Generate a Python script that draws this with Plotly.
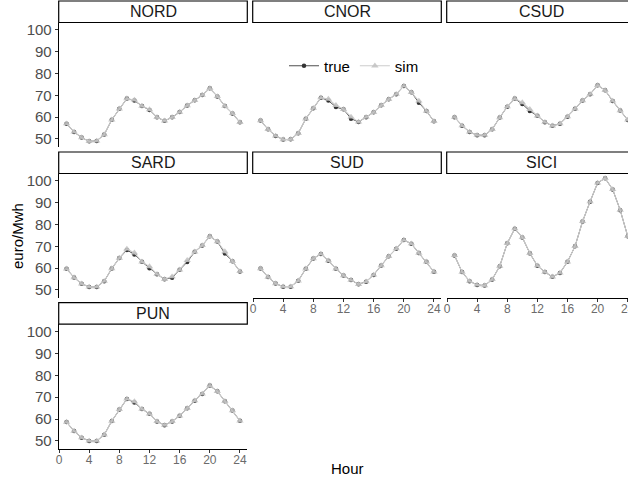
import plotly.graph_objects as go

W, H = 628, 483

hours = list(range(1, 25))
regions = ["NORD", "CNOR", "CSUD", "SARD", "SUD", "SICI", "PUN"]

sim_NORD = [57.0, 53.2, 50.6, 48.9, 49.1, 52.0, 58.8, 63.8, 68.5, 67.9, 65.1, 63.5,
            59.9, 58.3, 59.9, 62.3, 65.3, 67.7, 70.1, 73.2, 69.5, 65.1, 61.7, 57.6]
true_NORD = [57.0, 53.2, 50.6, 48.9, 49.1, 52.0, 58.8, 63.8, 68.5, 67.6, 65.1, 63.3,
             59.9, 58.3, 59.9, 62.3, 65.3, 67.7, 70.1, 73.2, 69.5, 65.1, 61.7, 57.6]

sim_CNOR = [58.4, 54.4, 51.4, 49.7, 49.8, 52.6, 59.2, 64.1, 68.9, 68.3, 65.4, 63.6,
            60.1, 57.8, 60.0, 62.2, 65.4, 68.2, 70.5, 74.3, 71.4, 67.4, 62.8, 58.1]
true_CNOR = [58.4, 54.4, 51.4, 49.7, 49.8, 52.6, 59.2, 64.1, 68.9, 67.6, 64.6, 63.6,
             59.3, 57.8, 60.0, 62.2, 65.4, 68.2, 70.5, 74.3, 71.4, 66.6, 62.8, 58.1]

sim_CSUD = [60.0, 56.1, 53.2, 51.7, 51.7, 54.4, 59.8, 64.8, 68.5, 66.7, 63.6, 60.6,
            57.7, 56.0, 57.0, 60.2, 63.8, 67.6, 70.5, 74.6, 72.3, 67.4, 63.0, 58.7]
true_CSUD = [60.0, 56.1, 53.2, 51.7, 51.7, 54.4, 59.8, 64.8, 68.5, 66.0, 62.8, 60.6,
             57.7, 56.0, 57.0, 60.2, 63.8, 67.6, 70.5, 74.6, 72.3, 67.4, 63.0, 58.7]

sim_SARD = [59.7, 55.7, 52.8, 51.4, 51.4, 54.0, 59.8, 64.6, 68.8, 67.0, 62.9, 60.7,
            57.2, 54.9, 56.1, 59.2, 63.6, 67.5, 70.4, 74.6, 72.2, 67.6, 63.1, 58.5]
true_SARD = [59.7, 55.7, 52.8, 51.4, 51.4, 54.0, 59.8, 64.6, 68.3, 66.3, 62.9, 59.9,
             57.2, 54.9, 55.6, 59.2, 62.8, 67.5, 70.4, 74.6, 72.2, 66.7, 63.1, 58.5]

sim_SUD = [59.8, 55.9, 52.9, 51.5, 51.5, 54.2, 59.7, 64.4, 66.5, 63.4, 59.7, 56.6,
           54.5, 52.6, 53.8, 56.9, 61.2, 65.4, 68.9, 72.9, 71.2, 66.9, 62.9, 58.3]
true_SUD = [59.8, 55.9, 52.9, 51.5, 51.5, 54.2, 59.7, 64.4, 66.5, 63.4, 59.7, 56.6,
            54.5, 52.6, 53.8, 56.9, 61.2, 65.4, 68.9, 72.9, 71.2, 66.9, 62.9, 58.3]

sim_SICI = [65.8, 58.2, 54.0, 52.3, 52.0, 54.8, 60.9, 71.4, 78.1, 74.1, 66.8, 61.1,
            58.2, 56.0, 57.8, 62.9, 70.0, 81.4, 90.5, 99.1, 101.2, 96.1, 86.6, 74.6]
true_SICI = [65.8, 58.2, 54.0, 52.3, 52.0, 54.8, 60.9, 71.4, 78.1, 74.1, 66.8, 61.1,
             58.2, 56.0, 57.8, 62.9, 70.0, 81.4, 90.5, 99.1, 101.2, 96.1, 86.6, 74.6]

sim_PUN = [58.6, 54.5, 51.5, 50.0, 50.0, 52.8, 59.1, 64.4, 69.2, 68.0, 64.6, 62.4,
           58.9, 57.2, 58.9, 61.5, 64.9, 68.4, 71.5, 75.3, 72.7, 68.1, 63.9, 59.2]
true_PUN = [58.6, 54.5, 51.5, 50.0, 50.0, 52.8, 59.1, 64.4, 69.2, 67.6, 64.6, 62.4,
            58.9, 57.2, 58.9, 61.5, 64.9, 68.4, 71.5, 75.3, 72.7, 68.1, 63.9, 59.2]

true_vals = {"NORD": true_NORD, "CNOR": true_CNOR, "CSUD": true_CSUD, "SARD": true_SARD,
             "SUD": true_SUD, "SICI": true_SICI, "PUN": true_PUN}
sim_vals = {"NORD": sim_NORD, "CNOR": sim_CNOR, "CSUD": sim_CSUD, "SARD": sim_SARD,
            "SUD": sim_SUD, "SICI": sim_SICI, "PUN": sim_PUN}

x_ticks = [0, 4, 8, 12, 16, 20, 24]
y_ticks = [50, 60, 70, 80, 90, 100]

# layout geometry (pixels)
cols = [(58.7, 247.3), (252.7, 441.3), (446.7, 628.0)]
panel_rows = [(22.5, 147.0), (173.5, 298.0), (324.2, 449.0)]
strip_tops = [1.0, 152.0, 302.7]
ppu = 7.54
x_left = -0.04
y_range = [46.3, 103.4]

placement = {"NORD": (0, 0), "CNOR": (0, 1), "CSUD": (0, 2),
             "SARD": (1, 0), "SUD": (1, 1), "SICI": (1, 2), "PUN": (2, 0)}
bottom_axis = {"PUN", "SUD", "SICI"}

FONT = "Liberation Sans, Arial, sans-serif"

fig = go.Figure()
layout = dict(
    template="none",
    width=W, height=H, margin=dict(l=0, r=0, t=0, b=0, autoexpand=False),
    paper_bgcolor="white", plot_bgcolor="white",
    font=dict(family=FONT, color="black"),
    showlegend=True,
    legend=dict(orientation="h", x=354 / W, xanchor="center", y=1 - 66 / H, yanchor="middle",
                font=dict(size=15, family=FONT, color="black"), bgcolor="rgba(0,0,0,0)",
                itemwidth=30, tracegroupgap=0, borderwidth=0),
)
shapes = []
annotations = []

for i, reg in enumerate(regions):
    r, c = placement[reg]
    n = "" if i == 0 else str(i + 1)
    xa, ya = "x" + n, "y" + n
    x0, x1 = cols[c]
    top, bot = panel_rows[r]
    xr = [x_left, x_left + (x1 - x0) / ppu]
    if c == 2:
        xr = [x_left, x_left + (x1 - x0) / ppu + 0.03]
    show_x = reg in bottom_axis
    show_y = c == 0
    layout["xaxis" + n] = dict(
        domain=[x0 / W, x1 / W], anchor=ya, range=xr, tickvals=x_ticks, automargin=False,
        showgrid=False, zeroline=False, showline=show_x, linecolor="black", linewidth=1,
        ticks="outside" if show_x else "", ticklen=2.5, tickcolor="#333333",
        showticklabels=show_x, tickfont=dict(size=12, color="#6b6b6b", family=FONT),
        ticklabeloverflow="allow", ticklabelstandoff=-3,
    )
    layout["yaxis" + n] = dict(
        domain=[1 - bot / H, 1 - top / H], anchor=xa, range=y_range, tickvals=y_ticks,
        automargin=False,
        showgrid=False, zeroline=False, showline=show_y, linecolor="black", linewidth=1,
        ticks="outside" if show_y else "", ticklen=3, tickcolor="#333333",
        showticklabels=show_y, tickfont=dict(size=15, color="#4d4d4d", family=FONT),
    )
    fig.add_trace(go.Scatter(
        x=hours, y=true_vals[reg], xaxis=xa, yaxis=ya, mode="lines+markers", name="true",
        legendgroup="true", showlegend=(i == 0),
        line=dict(color="#222222", width=0.8),
        marker=dict(symbol="circle", size=4.5, color="#333333", line=dict(width=0)),
    ))
    fig.add_trace(go.Scatter(
        x=hours, y=sim_vals[reg], xaxis=xa, yaxis=ya, mode="lines+markers", name="sim",
        legendgroup="sim", showlegend=(i == 0),
        line=dict(color="#cccccc", width=1.1),
        marker=dict(symbol="triangle-up", size=6.5, color="rgba(195,195,195,0.88)", line=dict(width=0)),
    ))
    st = strip_tops[r]
    sx1 = x1 / W if c < 2 else 1.02
    shapes.append(dict(type="rect", xref="paper", yref="paper",
                       x0=x0 / W, x1=sx1, y0=1 - top / H, y1=1 - st / H,
                       line=dict(color="black", width=1.2), fillcolor="white", layer="below"))
    annotations.append(dict(xref="paper", yref="paper", x=(x0 + (x1 if c < 2 else 635.3)) / 2 / W,
                            y=1 - (st + top) / 2 / H, text=reg, showarrow=False,
                            xanchor="center", yanchor="middle",
                            font=dict(size=16, color="#1a1a1a", family=FONT)))

annotations.append(dict(xref="paper", yref="paper", x=17 / W, y=1 - 236 / H, text="euro/Mwh",
                        textangle=-90, showarrow=False, xanchor="center", yanchor="middle",
                        font=dict(size=15, color="black", family=FONT)))
annotations.append(dict(xref="paper", yref="paper", x=347 / W, y=1 - 468 / H, text="Hour",
                        showarrow=False, xanchor="center", yanchor="middle",
                        font=dict(size=15, color="black", family=FONT)))

layout["shapes"] = shapes
layout["annotations"] = annotations
fig.update_layout(**layout)
fig.write_html("out.html")
